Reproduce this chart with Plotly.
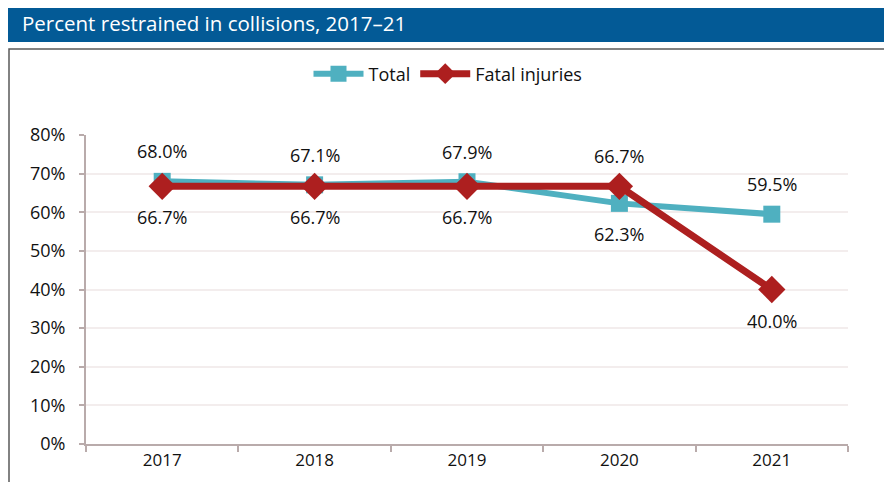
import plotly.graph_objects as go

years = ["2017", "2018", "2019", "2020", "2021"]
total = [68.0, 67.1, 67.9, 62.3, 59.5]
fatal = [66.7, 66.7, 66.7, 66.7, 40.0]
total_lbl_pos = ["above", "above", "above", "below", "above"]
fatal_lbl_pos = ["below", "below", "below", "above", "below"]
y_ticks = [0, 10, 20, 30, 40, 50, 60, 70, 80]

TEAL = "#4fb0c0"
RED = "#ad1f1f"
AXIS = "#b9abab"
FONT = "Open Sans"

# page puts the figure 8px in from the window corner
OFF = 8
W, H = 892 - OFF, 482 - OFF
# plot area on screen: x 86..848, y 135..444
L, R = 86 - OFF, W - (848 - OFF)
T, B = 135 - OFF, H - (444 - OFF)
pw, ph = W - L - R, H - T - B
def px(x): return (x - OFF - L) / pw
def py(y): return (H - B - (y - OFF)) / ph

fig = go.Figure()
fig.add_trace(go.Scatter(x=years, y=total, name="Total", mode="lines+markers",
                         line=dict(color=TEAL, width=6),
                         marker=dict(symbol="square", size=17, color=TEAL)))
fig.add_trace(go.Scatter(x=years, y=fatal, name="Fatal injuries", mode="lines+markers",
                         line=dict(color=RED, width=7),
                         marker=dict(symbol="diamond", size=21, color=RED)))

ann = []
for vals, pos in ((total, total_lbl_pos), (fatal, fatal_lbl_pos)):
    for i, (v, p) in enumerate(zip(vals, pos)):
        ann.append(dict(xref="x", yref="y", x=i, y=v, text=f"{v:.1f}%", showarrow=False,
                        yshift=30 if p == "above" else -31,
                        font=dict(size=18, color="#111111", family=FONT)))

ann.append(dict(xref="paper", yref="paper", x=px(20), y=py(23), xanchor="left",
                yanchor="middle", text="Percent restrained in collisions, 2017\u201321",
                showarrow=False, font=dict(size=20.5, color="white", family=FONT)))

shapes = [
    dict(type="rect", xref="paper", yref="paper", x0=px(7), x1=px(900), y0=py(42), y1=py(0),
         fillcolor="#035a96", line=dict(width=0), layer="below"),
    dict(type="rect", xref="paper", yref="paper", x0=px(9), x1=px(885), y0=py(500), y1=py(49),
         fillcolor="rgba(0,0,0,0)", line=dict(color="#5a5a5a", width=1.5), layer="below"),
]

fig.update_layout(
    width=W, height=H,
    margin=dict(l=L, r=R, t=T, b=B),
    paper_bgcolor="white", plot_bgcolor="white",
    font=dict(family=FONT, size=17, color="#111111"),
    showlegend=True,
    legend=dict(orientation="h", x=px(448), y=py(74), xanchor="center", yanchor="middle",
                font=dict(size=18, color="#111111"), bgcolor="rgba(0,0,0,0)",
                itemwidth=50, tracegroupgap=20),
    annotations=ann, shapes=shapes,
    xaxis=dict(type="category", range=[-0.5, 4.5], showline=True, linecolor=AXIS, linewidth=2,
               ticks="outside", tickson="boundaries", ticklen=6, tickcolor=AXIS, tickwidth=1.5,
               showgrid=False, tickfont=dict(size=17)),
    yaxis=dict(range=[0, 80], tickvals=y_ticks, ticktext=[f"{t}%" for t in y_ticks],
               showline=True, linecolor=AXIS, linewidth=2, ticks="outside", ticklen=5,
               tickcolor=AXIS, tickwidth=1.5, showgrid=True, gridcolor="#f3eded",
               gridwidth=2, zeroline=False, tickfont=dict(size=18), ticklabelstandoff=10),
)

fig.write_html("out.html")
